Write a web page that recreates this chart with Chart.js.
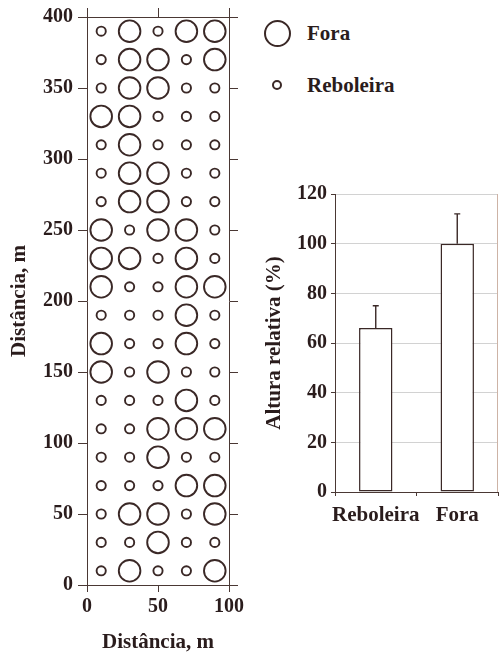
<!DOCTYPE html>
<html>
<head>
<meta charset="utf-8">
<script src="https://cdn.jsdelivr.net/npm/chart.js@4.4.1/dist/chart.umd.min.js"></script>
<style>
  html, body { margin: 0; padding: 0; background: #ffffff; }
  body { width: 499px; height: 655px; position: relative; overflow: hidden; }
  #mapa { position: absolute; left: 0; top: 0; }
  #barras { position: absolute; left: 250px; top: 170px; }
  #legenda { position: absolute; left: 262px; top: 14px; font: bold 21px 'Liberation Serif', 'Times New Roman', serif; color: #2a1c1c; }
  .item { display: flex; align-items: center; height: 38px; margin-bottom: 14px; }
  .marca { width: 30px; height: 38px; display: flex; align-items: center; justify-content: center; margin-right: 15px; }
  .marca span { display: block; border-radius: 50%; box-sizing: border-box; }
</style>
</head>
<body>
<canvas id="mapa" width="250" height="655"></canvas>
<canvas id="barras" width="249" height="370"></canvas>
<div id="legenda"></div>
<script>
// Grid of sampled plants: x positions (m) and y positions (m)
const colunas = [10, 30, 50, 70, 90];
const linhas = [390, 370, 350, 330, 310, 290, 270, 250, 230, 210,
                190, 170, 150, 130, 110, 90, 70, 50, 30, 10];
// One string per row (same order as linhas), columns left to right:
// F = fora da reboleira, R = dentro da reboleira
const ocorrencia = [
  'RFRFF', 'RFFRF', 'RFFRR', 'FFRRR', 'RFRRR',
  'RFFRR', 'RFFRR', 'FRFFR', 'FFRFR', 'FRRFF',
  'RRRFR', 'FRRFR', 'FRFRR', 'RRRFR', 'RRFFF',
  'RRFRR', 'RRRFF', 'RFFRF', 'RRFRR', 'RFRRF'
];

// Relative plant height by group
const grupos = ['Reboleira', 'Fora'];
const alturaRelativa = [66, 100];
const erroPadrao = [9, 12];

const tinta = '#2a1c1c';
const eixo = '#4a3834';
const serif = "'Liberation Serif', 'Times New Roman', serif";

Chart.defaults.font.family = serif;
Chart.defaults.font.weight = 'bold';
Chart.defaults.font.size = 20;
Chart.defaults.color = tinta;

function pontos(codigo) {
  const out = [];
  linhas.forEach((y, i) => {
    colunas.forEach((x, j) => {
      if (ocorrencia[i][j] === codigo) out.push({ x, y });
    });
  });
  return out;
}

const tituloFonte = { size: 21, weight: 'bold', family: serif };

const mapa = new Chart(document.getElementById('mapa'), {
  type: 'scatter',
  data: {
    datasets: [
      { label: 'Fora', data: pontos('F'), pointRadius: 10.8, pointBorderWidth: 1.9,
        borderColor: '#3a2826', backgroundColor: 'rgba(0,0,0,0)', pointHoverRadius: 10.8 },
      { label: 'Reboleira', data: pontos('R'), pointRadius: 4.6, pointBorderWidth: 1.9,
        borderColor: '#3a2826', backgroundColor: 'rgba(0,0,0,0)', pointHoverRadius: 4.6 }
    ]
  },
  options: {
    responsive: false,
    animation: false,
    clip: false,
    layout: { padding: { top: 7, right: 12, bottom: 0, left: 0 } },
    plugins: { legend: { display: false }, tooltip: { enabled: false } },
    scales: {
      x: {
        type: 'linear', position: 'bottom', min: 0, max: 100,
        ticks: { stepSize: 50, padding: 3, maxRotation: 0 },
        grid: { drawOnChartArea: false, tickLength: 7, color: eixo },
        border: { color: eixo },
        title: { display: true, text: 'Distância, m', font: tituloFonte, padding: { top: 0, bottom: 0 } },
        afterFit(s) { s.height = 70; }
      },
      y: {
        type: 'linear', position: 'left', min: 0, max: 400,
        ticks: { stepSize: 50, padding: 5 },
        grid: { drawOnChartArea: false, tickLength: 9, color: eixo },
        border: { color: eixo },
        title: { display: true, text: 'Distância, m', font: tituloFonte, padding: { top: 7, bottom: 0 } },
        afterFit(s) { s.width = 87; }
      },
      xTopo: {
        type: 'linear', position: 'top', min: 0, max: 100,
        ticks: { display: false, stepSize: 50 },
        grid: { drawOnChartArea: false, tickLength: 9, color: eixo },
        border: { color: eixo },
        afterFit(s) { s.height = 9; }
      },
      yDir: {
        type: 'linear', position: 'right', min: 0, max: 400,
        ticks: { display: false, stepSize: 50 },
        grid: { drawOnChartArea: false, tickLength: 9, color: eixo },
        border: { color: eixo },
        afterFit(s) { s.width = 9; }
      }
    }
  }
});

// Legend built from the scatter datasets
const legenda = document.getElementById('legenda');
mapa.data.datasets.forEach(ds => {
  const item = document.createElement('div');
  item.className = 'item';
  const marca = document.createElement('div');
  marca.className = 'marca';
  const c = document.createElement('span');
  const d = ds.label === 'Fora' ? 27 : 10;
  c.style.width = d + 'px';
  c.style.height = d + 'px';
  c.style.border = '2px solid ' + ds.borderColor;
  marca.appendChild(c);
  const txt = document.createElement('span');
  txt.textContent = ds.label;
  item.appendChild(marca);
  item.appendChild(txt);
  legenda.appendChild(item);
});

// Upper error bars plus right frame line for the bar chart
const barrasErro = {
  id: 'barrasErro',
  afterDatasetsDraw(chart) {
    const { ctx, chartArea } = chart;
    const yS = chart.scales.y;
    const meta = chart.getDatasetMeta(0);
    ctx.save();
    ctx.strokeStyle = '#3a2826';
    ctx.lineWidth = 1.4;
    meta.data.forEach((bar, i) => {
      const v = alturaRelativa[i];
      const yTop = yS.getPixelForValue(v + erroPadrao[i]);
      const yBase = yS.getPixelForValue(v);
      ctx.beginPath();
      ctx.moveTo(bar.x, yBase);
      ctx.lineTo(bar.x, yTop);
      ctx.moveTo(bar.x - 3, yTop);
      ctx.lineTo(bar.x + 3, yTop);
      ctx.stroke();
    });
    ctx.strokeStyle = '#cdb3a6';
    ctx.lineWidth = 1;
    ctx.beginPath();
    ctx.moveTo(chartArea.right - 0.5, chartArea.top);
    ctx.lineTo(chartArea.right - 0.5, chartArea.bottom);
    ctx.stroke();
    ctx.restore();
  }
};

new Chart(document.getElementById('barras'), {
  type: 'bar',
  data: {
    labels: grupos,
    datasets: [{
      data: alturaRelativa,
      backgroundColor: '#ffffff',
      borderColor: '#3a2826',
      borderWidth: 1.5,
      borderSkipped: false,
      barPercentage: 0.41,
      categoryPercentage: 1
    }]
  },
  options: {
    responsive: false,
    animation: false,
    layout: { padding: { top: 24, right: 1, bottom: 0, left: 0 } },
    plugins: { legend: { display: false }, tooltip: { enabled: false } },
    scales: {
      x: {
        grid: { offset: true, drawOnChartArea: false, tickLength: 4, color: eixo },
        border: { color: eixo },
        ticks: { padding: 7, font: { size: 21 }, maxRotation: 0, minRotation: 0, autoSkip: false },
        afterFit(s) { s.height = 48; }
      },
      y: {
        min: 0, max: 120,
        ticks: { stepSize: 20, padding: 4 },
        grid: { drawTicks: true, tickLength: 4, tickColor: eixo,
                color: ctx => ctx.tick && ctx.tick.value === 0 ? eixo : '#d2d2d2' },
        border: { color: eixo },
        title: { display: true, text: 'Altura relativa (%)', font: tituloFonte, padding: { top: 12, bottom: 0 } },
        afterFit(s) { s.width = 85; }
      }
    }
  },
  plugins: [barrasErro]
});
</script>
</body>
</html>
